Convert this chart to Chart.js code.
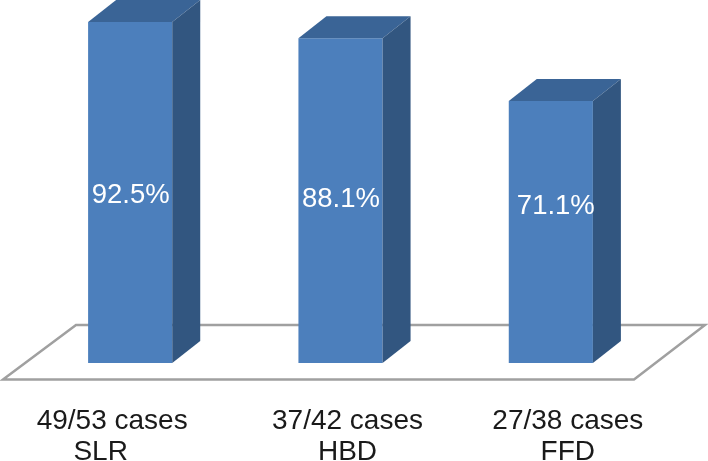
<!DOCTYPE html>
<html>
<head>
<meta charset="utf-8">
<style>
  html, body { margin: 0; padding: 0; background: #fff; }
  canvas { display: block; }
</style>
<script src="https://cdn.jsdelivr.net/npm/chart.js@4/dist/chart.umd.min.js"></script>
</head>
<body>
<canvas id="chart" width="708" height="461"></canvas>
<script>
// Values
const caseLabels = ['49/53 cases', '37/42 cases', '27/38 cases'];
const testLabels = ['SLR', 'HBD', 'FFD'];
const percentValues = [92.5, 88.1, 71.1];
const percentLabels = ['92.5%', '88.1%', '71.1%'];

// Paints the floor behind the bars
const floorPlugin = {
  id: 'floor',
  beforeDatasetsDraw(chart) {
    const ctx = chart.ctx;
    const base = chart.chartArea.bottom;
    ctx.save();
    ctx.strokeStyle = '#a0a0a0';
    ctx.lineWidth = 2.5;
    ctx.beginPath();
    ctx.moveTo(3, base + 16.5);
    ctx.lineTo(76, base - 38);
    ctx.lineTo(705, base - 38);
    ctx.lineTo(634, base + 16.5);
    ctx.closePath();
    ctx.stroke();
    ctx.restore();
  }
};

// Adds the top and side faces and the white labels to each bar
const depthX = 28;
const depthY = 22;
const labelRaise = [160, 156, 149];
const labelShift = [0.5, 0.5, 5];
const blockPlugin = {
  id: 'block',
  afterDatasetsDraw(chart) {
    const ctx = chart.ctx;
    ctx.save();
    chart.getDatasetMeta(0).data.forEach((bar, i) => {
      const left = bar.x - bar.width / 2;
      const right = bar.x + bar.width / 2;
      const top = bar.y;
      const bottom = bar.base;

      ctx.fillStyle = '#3a6496';
      ctx.beginPath();
      ctx.moveTo(left, top);
      ctx.lineTo(left + depthX, top - depthY);
      ctx.lineTo(right + depthX, top - depthY);
      ctx.lineTo(right, top);
      ctx.closePath();
      ctx.fill();

      ctx.fillStyle = '#325680';
      ctx.beginPath();
      ctx.moveTo(right, top);
      ctx.lineTo(right + depthX, top - depthY);
      ctx.lineTo(right + depthX, bottom - depthY);
      ctx.lineTo(right, bottom);
      ctx.closePath();
      ctx.fill();

      ctx.fillStyle = '#ffffff';
      ctx.font = '27.5px "Liberation Sans"';
      ctx.textAlign = 'center';
      ctx.textBaseline = 'alphabetic';
      ctx.fillText(percentLabels[i], bar.x + labelShift[i], bottom - labelRaise[i]);
    });
    ctx.restore();
  }
};

// The category labels sit off-centre from their bars, so they are placed by hand
const caseShift = [-18, 7, 17];
const testShift = [-29.5, 7, 17];
const axisTextPlugin = {
  id: 'axisText',
  afterDraw(chart) {
    const ctx = chart.ctx;
    const xScale = chart.scales.x;
    ctx.save();
    ctx.fillStyle = '#1a1a1a';
    ctx.font = '28px "Liberation Sans"';
    ctx.textAlign = 'center';
    ctx.textBaseline = 'alphabetic';
    caseLabels.forEach((label, i) => {
      const x = xScale.getPixelForTick(i);
      ctx.fillText(label, x + caseShift[i], 429);
      ctx.fillText(testLabels[i], x + testShift[i], 460);
    });
    ctx.restore();
  }
};

new Chart(document.getElementById('chart').getContext('2d'), {
  type: 'bar',
  data: {
    labels: testLabels,
    datasets: [{
      data: percentValues,
      backgroundColor: '#4c7fbc',
      borderWidth: 0,
      barPercentage: 1,
      categoryPercentage: 0.4
    }]
  },
  plugins: [floorPlugin, blockPlugin, axisTextPlugin],
  options: {
    responsive: false,
    animation: false,
    layout: { padding: { left: 25, right: 52, top: 0, bottom: 98 } },
    plugins: {
      legend: { display: false },
      tooltip: { enabled: false }
    },
    scales: {
      y: { display: false, min: 0, max: 98.5 },
      x: {
        border: { display: false },
        grid: { display: false, drawTicks: false },
        ticks: { display: false }
      }
    }
  }
});
</script>
</body>
</html>
